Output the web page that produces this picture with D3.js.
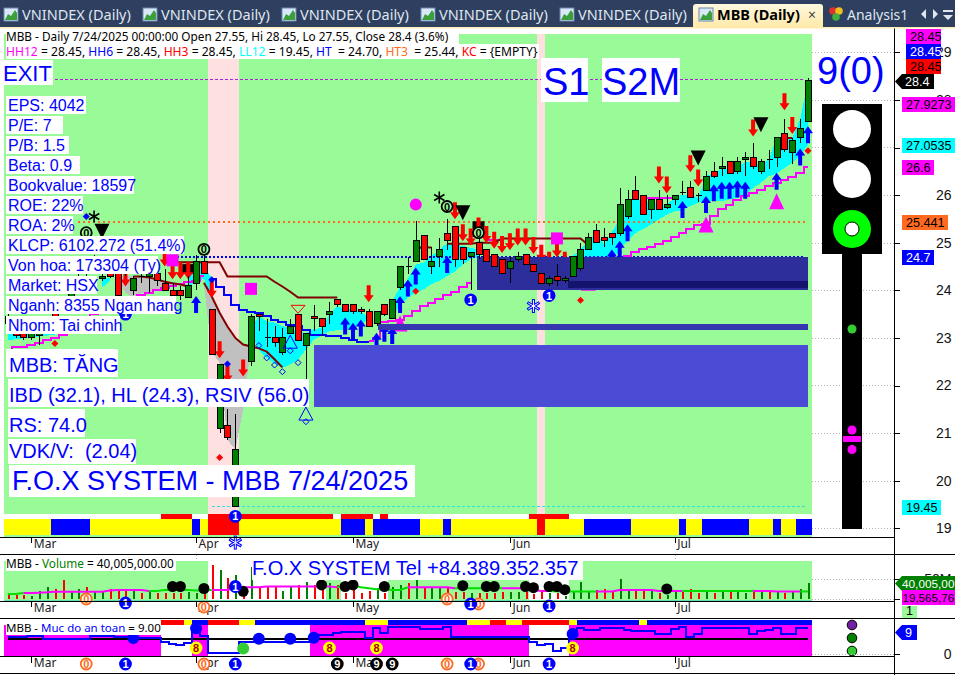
<!DOCTYPE html>
<html><head><meta charset="utf-8">
<script src="https://cdn.jsdelivr.net/npm/d3@7/dist/d3.min.js"></script>
<style>
html,body{margin:0;padding:0;background:#fff;overflow:hidden}
svg{display:block}
text{font-family:"Liberation Sans",Arial,sans-serif}
.ui text{font-family:"Noto Sans",sans-serif}
</style></head><body><svg id="c" width="955" height="675"></svg>
<script>
// ---------- DATA ----------
const open=[23.45,23.2,23.1,23.0,23.05,23.2,23.55,23.7,23.8,24.1,24.55,24.45,24.25,24.35,24.35,24.45,24.0,24.3,24.3,24.35,24.15,24.0,24.0,23.85,24.15,24.6,23.6,21.1,21.15,19.45,22.0,22.5,23.5,23,23,22.7,23.1,23.5,22.85,23.45,23.4,23.5,23.8,23.7,23.7,23.6,23.55,23.3,23.7,23.4,24.05,24.5,24.6,25.15,24.5,24.7,25.2,25.35,24.9,24.7,25.0,24.85,24.75,24.65,24.45,24.65,24.75,24.55,24.35,24.15,24.3,24.2,24.3,24.45,24.85,25.25,25.1,25.2,25.2,25.55,26.1,26.0,25.7,25.9,25.75,25.9,26.05,26.15,26.0,26.1,26.5,26.55,26.7,26.5,26.75,26.8,26.5,26.75,26.8,27.3,26.9,27.2,27.55];
const high=[23.5,23.3,23.15,23.15,23.2,23.4,23.6,23.8,24.1,24.4,24.7,24.75,24.45,24.5,24.55,24.5,24.3,24.55,24.35,24.6,24.45,24.15,24.1,24.3,24.75,24.75,23.6,22.45,21.5,21.4,22.05,23.5,23.5,23.4,23.25,23.2,23.4,23.5,23.1,23.7,23.4,23.75,23.8,23.7,23.7,23.65,23.6,23.55,23.7,23.8,24.5,24.7,25.45,25.15,24.9,25.1,25.5,25.35,24.9,24.8,25.35,24.85,24.75,24.65,24.7,24.8,24.75,24.55,24.35,24.3,24.55,24.3,24.7,25.0,25.2,25.4,25.3,25.2,26.15,26.1,26.4,26.0,25.9,26.1,26.0,26.0,26.3,26.3,26.05,26.5,26.7,26.8,26.7,26.8,26.9,27.1,26.75,26.95,27.2,27.6,27.2,27.6,28.45];
const low=[23.2,23.0,22.95,22.95,22.85,23.15,23.3,23.5,23.75,24.05,24.3,24.4,24.2,24.25,23.9,24.3,23.9,24.15,23.95,24.1,24.0,23.9,23.8,23.85,24.0,24.35,22.65,21.0,20.85,19.45,21.7,22.4,23.15,22.8,22.8,22.65,23.1,22.95,21.55,23.15,23.05,23.3,23.65,23.55,23.5,23.5,23.25,23.25,23.45,23.4,24.0,24.35,24.6,24.65,24.35,24.5,24.85,24.5,24.55,24.0,24.65,24.6,24.5,24.35,24.15,24.6,24.55,24.4,24.15,24.1,24.1,24.15,24.3,24.4,24.85,25.0,24.9,24.95,25.15,25.5,25.9,25.6,25.5,25.7,25.7,25.8,26.0,25.95,25.85,26.1,26.35,26.4,26.45,26.45,26.4,26.55,26.45,26.55,26.6,26.9,26.65,27.1,27.55];
const close=[23.3,23.05,23.0,23.1,23.1,23.3,23.4,23.55,23.95,24.25,24.35,24.6,24.3,24.3,23.9,24.35,24.25,24.3,24.35,24.2,24.0,23.9,23.9,24.1,24.6,24.35,22.65,22.45,20.9,20.65,21.75,23.45,23.45,23,22.9,23,23.25,22.95,23.1,23.4,23.25,23.55,23.7,23.55,23.55,23.55,23.25,23.55,23.5,23.8,24.5,24.5,25.05,24.65,24.6,24.85,25.05,24.65,24.65,24.8,24.75,24.6,24.5,24.35,24.6,24.7,24.55,24.4,24.15,24.25,24.2,24.25,24.7,24.85,25.1,25.0,25.05,25.1,25.8,25.9,25.9,25.6,25.9,25.7,25.8,26.0,26.05,25.95,26.0,26.4,26.4,26.6,26.45,26.7,26.8,26.6,26.7,26.75,27.2,26.95,27.15,27.4,28.4];
const volumeM=[10.8,10.8,10.8,8.3,20.8,30,25,48.3,20.8,25,30,19.2,19.2,25,25,20.8,20.8,16.7,20.8,15,15,16.7,15,19.2,15,25,85.8,73.3,52.5,60.8,23.3,81.6,30,30,30,20.8,30,35.8,44.1,35.8,31.7,40,35.8,16.7,23.3,16.7,20.8,27.5,15,30,35.8,41.7,50.8,30,27.5,30,30,19.2,19.2,15,15,15,15,19.2,19.2,19.2,19.2,13.3,19.2,15,15,8.3,19.2,44.1,20.8,23.3,25.8,19.2,50.8,23.3,23.3,23.3,20.8,15,10.8,19.2,19.2,25.8,16.7,19.2,16.7,20.8,23.3,19.2,16.7,19.2,19.2,19.2,20.8,16.7,19.2,25.8,40.005];
const volumeMA=[13.5,13.5,15.5,15.5,16.5,17.5,19,19,19,19,19,19,19,22,23,23.3,23.3,23.3,21,21,23,23,23.3,23.3,22,22,23.3,23.3,23.3,30,30,30,30,31.7,31.7,31.7,31.7,31.7,31.7,31.7,31.7,31.7,30,35,35,30,27.5,25,25,23.3,23.3,30,30,30,30,30,30,27.5,27.5,27.5,27.5,27.5,27.5,27.5,27.5,27.5,27.5,23.3,21,21,19.5,19.5,19.5,19.5,19.5,19.5,19.5,19.5,23.3,23.3,23.3,23.3,23.3,21,21,21,21,21,21,21,21,21,21,21,21,21,21,21,19.5,19.5,19.5,19.565,19.565];
const volumeMAColors=["#00e000","#ff00ff","#00e000","#ff00ff","#00e000","#ff00ff","#00e000","#ff00ff","#00e000","#ff00ff","#00e000","#ff00ff","#00e000","#ff00ff"];
const volumeMARuns=[2,16,8,16,9,6,6,6,6,11,9,6,5,2];
const safety=[5.7,5.7,5.7,6.2,6.2,5.1,5.1,5.1,5.1,5.1,5.1,6.2,6.2,6.2,6.0,6.0,5.4,5.4,5.4,5.4,4.3,3.4,3.1,3.7,9.1,6.2,0.3,0.3,0.3,0.3,4.3,4.3,4.3,4.3,4.3,4.3,4.3,4.3,4.3,5.4,6.5,6.5,7.3,7.4,7.4,7.4,5.4,8.8,7.1,9.1,9.1,9.1,9.1,8.4,8.4,8.4,9.1,5.7,5.7,5.7,5.7,5.7,5.7,5.7,5.7,5.7,5.7,4.3,3.1,3.4,1.2,2.0,7.1,9.0,8.2,8.2,8.9,8.9,8.9,8.2,8.0,8.0,8.0,7.0,7.0,8.4,9.1,5.7,6.9,8.9,8.9,8.9,8.9,8.9,8.9,6.9,7.9,8.2,8.9,6.9,6.9,9.0,9.0];
const safetyRef=5.3;

const monthLabels=["Mar","Apr","May","Jun","Jul"];
const monthBars=[3,24,44,64,85];
const priceTicks=[19,20,21,22,23,24,25,26,27,28,29];
const volumeTicks=[0,50];
const safetyTicks=[0];

const magentaStart1=0, magenta1=[22.75,22.8,22.8,22.85,22.9,22.95,23.0,23.07,23.2,23.3,23.4,23.5,23.55,23.65,23.7,23.75,23.85,23.9,23.95,24.0,24.05,24.1,24.13,24.17,24.2,24.3];
const magentaStart2=46, magenta2=[22.93,23.0,23.33,23.35,23.38,23.46,23.56,23.67,23.74,23.81,23.91,23.97,24.07,24.16];
const magentaStart3=78, magenta3=[24.68,24.73,24.81,24.86,24.9,24.98,25.04,25.11,25.2,25.28,25.37,25.4,25.57,25.7,25.79,25.89,25.99,26.04,26.1,26.2,26.26,26.31,26.38,26.47,26.6];
const upperMagentaStarts=[52,61,81], upperMagenta=[[24.89,24.89],[25.05,25.05,25.05],[25.94,25.94,25.94,25.94,25.94]];

const brownStarts=[16,25,52,56,99];
const brownSeries=[
 [24.29,24.29,24.27,24.23,24.18,24.15,24.12,24.08],
 [24.16,23.87,23.53,23.24,23.0,22.86,22.82,22.78,22.71,22.55,22.38],
 [24.9,24.9,24.9],
 [24.98,24.98,24.98,24.98,25.0,25.0,25.0,25.09,25.09,25.09,25.09,25.09,25.09,25.09,25.09,25.09,25.09,25.09,24.95],
 [27.2,27.2]];
const brownTopStart=20, brownTop=[24.59,24.59,24.59,24.59,24.59,24.59,24.59,24.59,24.29,24.29,24.29,24.29,24.29,24.29,24.18,24.08,23.97,23.85,23.85,23.85,23.85,23.85,23.85];
const blueStart=26, blueLine=[24.23,24.06,23.91,23.7,23.59,23.55,23.53,23.45,23.38,23.34,23.28,23.24,23.17,23.07,23.07,23.05,23.05,23.0,22.96,22.92,22.92];

const cyanStarts=[0,12,23,31,49,72];
const cyanTops=[
 [23.2,23.2,23.2,23.2,23.2,23.2,23.1],
 [24.25,24.25],
 [24.45,24.65,24.5,24.25],
 [23.2,23.46,23.35,23.32,23.25,23.21,23.14,23.1,23.18,23.21,23.49,23.67,23.6,23.6,23.56,23.42],
 [23.77,24.07,24.23,24.54,24.58,24.72,24.85,24.99,24.96,24.93,24.89,24.86],
 [24.72,24.86,25.03,25.21,24.96,25.21,25.52,25.84,25.94,25.84,25.87,25.8,25.8,25.94,26.01,26.01,25.94,26.4,26.47,26.54,26.54,26.57,26.71,26.68,26.64,26.75,27.2,27.2,27.2,27.59,28.39]];
const cyanBots=[
 [22.95,22.97,22.99,23.01,23.03,23.05,23.07],
 [24.05,24.2],
 [24.1,24.15,24.25,23.8],
 [23.1,22.75,22.58,22.46,22.37,22.44,22.55,22.75,22.96,23.05,23.14,23.16,23.16,23.21,23.28,23.39],
 [23.42,23.7,23.84,23.95,24.02,24.13,24.2,24.3,24.4,24.54,24.65,24.7],
 [24.5,24.5,24.5,24.5,24.5,24.6,24.86,25.03,25.2,25.29,25.38,25.49,25.59,25.66,25.68,25.77,25.84,25.87,25.87,25.87,25.91,25.94,25.99,26.15,26.26,26.4,26.45,26.57,26.68,26.82,27.06]];
const grayStarts=[14,25];
const grayTops=[[24.3,24.3,24.3,24.3,24.28,24.25,24.18,24.15,24.13],[24.16,23.87,23.53,23.24,23.0,22.86,22.82]];
const grayBots=[[24.2,23.95,23.85,23.95,23.95,24.0,24.05,24.1,24.13],[24.12,22.69,22.48,20.86,20.65,21.5,22.82]];

const pinkBars=[[26,30],[68,69]];
const zoneBars=[[39,102],[47.2,102],[59.8,102],[71.4,102]];
const zoneTop=[22.85,23.3,24.71,24.2];
const zoneBot=[21.54,23.17,24.0,24.05];
const levels=[28.43,25.44,24.7,19.45];
const levelStart=[6,9,21,26];

const stripColors=["#ffff00","#0000ff","#ffff00","#0000ff","#ffff00","#ff0000","#ffff00","#0000ff","#ffff00","#0000ff","#ffff00","#0000ff","#ffff00","#ff0000","#ffff00","#0000ff","#ffff00","#0000ff","#ffff00","#0000ff","#ffff00","#0000ff","#ffff00","#0000ff"];
const stripRuns=[6,5,13,1,1,4,13,3,1,6,3,1,11,1,5,6,6,1,2,6,3,1,2,2];
const redRuns=[20,4,2,16,1,4,1,1,18,5,31];
const volBgRuns=[26,15,2,6,18,5,31];
const safetyBgRuns=[20,4,2,13,28,5,31];
const safetyTopColors=["#ffffff","#ff0000","#ffff00","#0000ff","#ff0000","#ffff00","#0000ff","#ffff00","#0000ff","#ffff00","#ff0000","#ffff00","#ff0000","#ffff00","#0000ff","#ffff00","#0000ff"];
const safetyTopRuns=[20,3,1,2,4,2,14,3,10,3,2,2,6,1,8,1,21];

const upArrows=[[24,23.7],[43,23.25],[44,23.14],[45,23.21],[47,22.93],[48,23.1],[49,23.05],[50,23.7],[51,24.05],[52,24.3],[56,24.54],[77,24.68],[78,24.86],[79,25.21],[86,25.7],[89,25.8],[90,26.05],[91,26.1],[92,26.1],[93,26.13],[94,26.1],[98,26.29],[101,26.8],[102,27.27]];
const downArrows=[[15,24.26],[20,24.68],[21,24.41],[22,24.41],[23,24.41],[26,24.02],[27,22.75],[28,22.24],[30,22.37],[46,23.93],[57,25.67],[58,25.21],[59,25.12],[60,25.35],[61,25.17],[62,25.05],[63,24.96],[64,25.02],[65,25.12],[66,25.12],[67,24.94],[68,24.78],[69,24.63],[70,24.87],[71,24.63],[83,26.42],[84,26.21],[87,26.66],[88,26.36],[95,27.41],[99,27.96],[100,27.46]];
const blackTriangles=[[12,25.24],[58,25.63],[88,26.78],[96,27.48]];
const magentaTriangles=[[50,23.3],[74,24.16],[89,25.38],[98,25.87]];
const magentaSquares=[[21,24.63],[31,24.03],[70,25.09]];
const magentaDots=[[52,25.8]];
const redDiamonds=[[6,22.88],[27,20.49],[52,23.98],[73,23.79],[102,26.93]];
const blueDiamonds=[[10,25.55],[28,22.45],[26,24.22]];
const openDiamonds=[[32,22.84],[33,22.58],[34,22.43],[35,22.29],[36,22.73],[37,22.48],[38,21.24]];
const openTriangles=[[36,22.92],[38,21.41]];
const redOpenTriangles=[[37,23.6]];
const blackStars=[[11,25.55],[55,25.95]];
const snowflakes=[[67,23.67],[29,18.7]];
const blackBlocks=[[60,25.45,25.12],[23,24.55,24.35]];
const zeroBadges=[[10,25.21],[25,24.86],[56,25.76],[60,25.21]];
const oneBadges=[[15,23.5],[59,23.8],[69,23.89],[29,19.25]];
const volumeDots=[[21,32],[22,32],[25,27],[30,20],[40,36],[43,32],[44,36],[48,32],[58,34],[61,32],[62,32],[66,32],[67,29],[69,32],[70,32],[71,24],[84,26]];
const volOneBadges=[[29,32]];
const rowOrange=[10,25,56,60];
const rowBlue=[15,59,69];
const rowOrange2=[10,25,56,60];
const rowBlue2=[15,29,59,69];
const rowBlack=[42,47,49];
const safetyBlue=[[16,5.5],[24,8.8],[32,5.3],[36,5.3],[39,5.6],[72,6.9]];
const safetyLime=[[30,2.0]];
const safetyYellow=[24,41,47,72];

const tabLabels=["VNINDEX (Daily)","VNINDEX (Daily)","VNINDEX (Daily)","VNINDEX (Daily)","VNINDEX (Daily)"];
const factLines=["EPS: 4042","P/E: 7","P/B: 1.5","Beta: 0.9","Bookvalue: 18597","ROE: 22%","ROA: 2%","KLCP: 6102.272 (51.4%)","Von hoa: 173304 (Ty)","Market: HSX","Nganh: 8355 Ngan hang","Nhom: Tai chinh"];
const bigLines=["MBB: TĂNG","IBD (32.1), HL (24.3), RSIV (56.0)","RS: 74.0","VDK/V:  (2.04)"];

// ---------- SCALES ----------
const svg=d3.select("#c");
const xS=d3.scaleLinear().domain([0,102]).range([7.8,808]);
const step=xS(1)-xS(0);
const yP=d3.scaleLinear().domain([19,29]).range([528.3,52.3]);
const yV=d3.scaleLinear().domain([0,50]).range([599.3,579.3]);
const yS=d3.scaleLinear().domain([0,9]).range([654.3,627.7]);
const BLUE="#0000ff",MAG="#ff00ff",RED="#ff0000",GREEN="#98fb98";
const crisp=g=>g.attr("shape-rendering","crispEdges");
const edge=i=>xS(i)-step/2;

function drawRuns(g,runs,colors,y0,h){let i=0;runs.forEach((n,k)=>{const c=colors[k%colors.length];
  if(c&&c!=="none") g.append("rect").attr("x",edge(i)).attr("width",edge(i+n)-edge(i)).attr("y",y0).attr("height",h).attr("fill",c);
  i+=n;});}
function pts(start,vals){return vals.map((v,j)=>({i:start+j,v}));}
function line(g,start,vals,color,w,curve){g.append("path").datum(pts(start,vals)).attr("fill","none").attr("stroke",color).attr("stroke-width",w)
  .attr("d",d3.line().x(d=>xS(d.i)).y(d=>yP(d.v)).curve(curve||d3.curveLinear));}

// ---------- BACKGROUND ----------
const bg=svg.append("g").call(crisp);
bg.append("rect").attr("x",4).attr("y",34).attr("width",808).attr("height",480).attr("fill",GREEN);
pinkBars.forEach(b=>bg.append("rect").attr("x",edge(b[0])).attr("width",edge(b[1])-edge(b[0])).attr("y",34).attr("height",480).attr("fill","#ffe0e0"));

const strips=svg.append("g").call(crisp);
drawRuns(strips,redRuns,["none",RED],514,5);
drawRuns(strips,stripRuns,stripColors,519,16);
strips.append("rect").attr("x",4).attr("y",535).attr("width",808).attr("height",2).attr("fill",GREEN);

svg.append("g").selectAll("line").data(priceTicks).join("line").attr("x1",812).attr("x2",894).attr("y1",d=>Math.round(yP(d))+.5).attr("y2",d=>Math.round(yP(d))+.5)
  .attr("stroke","#b4b4b4").attr("stroke-dasharray","1,2").call(crisp);

// ---------- BANDS ----------
const bands=svg.append("g").attr("shape-rendering","crispEdges");
function band(starts,tops,bots,color){starts.forEach((s,k)=>{const d=tops[k].map((t,j)=>({i:s+j,t,b:bots[k][j]}));
  bands.append("path").datum(d).attr("fill",color).attr("d",d3.area().x(e=>xS(e.i)).y0(e=>yP(e.b)).y1(e=>yP(e.t)));});}
band(grayStarts,grayTops,grayBots,"#c0c0c0");
band(cyanStarts,cyanTops,cyanBots,"#00ffff");

// ---------- DOTTED LEVELS ----------
const lv=svg.append("g").call(crisp);
const levelColor=["#b020d8","#ff6a20",BLUE,"#30e0e0"],levelDash=["3,2","2,3","2,2","3,2"],levelW=[1,2,2,1];
levels.forEach((v,k)=>lv.append("line").attr("x1",xS(levelStart[k])).attr("x2",805).attr("y1",yP(v)).attr("y2",yP(v)).attr("stroke",levelColor[k]).attr("stroke-dasharray",levelDash[k]).attr("stroke-width",levelW[k]));

// ---------- LINES ----------
const ls=svg.append("g").attr("shape-rendering","crispEdges");
line(ls,magentaStart1,magenta1,MAG,2,d3.curveStep);
line(ls,magentaStart2,magenta2,MAG,2,d3.curveStep);
line(ls,magentaStart3,magenta3,MAG,2,d3.curveStep);
upperMagentaStarts.forEach((s,k)=>line(ls,s,upperMagenta[k],MAG,2));
const ls2=svg.append("g");
brownStarts.forEach((s,k)=>line(ls2,s,brownSeries[k],"#800000",2));
line(ls2,brownTopStart,brownTop,"#800000",2);
line(ls,blueStart,blueLine,BLUE,2,d3.curveStep);

// ---------- MARKERS (under zones) ----------
const mk=svg.append("g");
const upPath="M0,-8.5L5,-1.5L2,-1.5L2,8.5L-2,8.5L-2,-1.5L-5,-1.5Z";
const downPath="M0,8.5L5,1.5L2,1.5L2,-8.5L-2,-8.5L-2,1.5L-5,1.5Z";
const at=d=>`translate(${xS(d[0])},${yP(d[1])})`;
mk.selectAll(".bb").data(blackBlocks).join("rect").attr("x",d=>xS(d[0])-6).attr("width",12).attr("y",d=>yP(d[1])).attr("height",d=>yP(d[2])-yP(d[1])).attr("fill","#000");
mk.selectAll(".tm").data(magentaTriangles).join("path").attr("transform",at).attr("d","M0,-8L7.5,8L-7.5,8Z").attr("fill",MAG);
mk.selectAll(".da").data(downArrows).join("path").attr("transform",at).attr("d",downPath).attr("fill",RED);
mk.selectAll(".ua").data(upArrows).join("path").attr("transform",at).attr("d",upPath).attr("fill",BLUE);

// ---------- ZONES ----------
const zoneColor=["#4b4bd6","#3636b0","#2d2d9b","#14146e"];
svg.append("g").call(crisp).selectAll("rect").data(zoneBars).join("rect")
  .attr("x",d=>xS(d[0])).attr("width",d=>xS(d[1])-xS(d[0])).attr("y",(d,i)=>yP(zoneTop[i])).attr("height",(d,i)=>yP(zoneBot[i])-yP(zoneTop[i])).attr("fill",(d,i)=>zoneColor[i]);

// ---------- CANDLES ----------
const cg=svg.append("g").attr("shape-rendering","crispEdges");
open.forEach((o,i)=>{const c=close[i],x=Math.round(xS(i))+.5;
  cg.append("line").attr("x1",x).attr("x2",x).attr("y1",yP(high[i])).attr("y2",yP(low[i])).attr("stroke","#000");
  const top=yP(Math.max(o,c)),bot=yP(Math.min(o,c));
  if(o===c){cg.append("line").attr("x1",x-3).attr("x2",x+3).attr("y1",top).attr("y2",top).attr("stroke","#000");}
  else cg.append("rect").attr("x",x-3).attr("width",6).attr("y",top).attr("height",bot-top).attr("fill",c>o?"#008000":"#ff0000").attr("stroke","#000");
});

// ---------- MARKERS (over candles) ----------
const m2=svg.append("g");
function star(g,x,y,r,color,w){[0,60,120].forEach(a=>{const t=a*Math.PI/180+Math.PI/2;
  g.append("line").attr("x1",x-r*Math.cos(t)).attr("y1",y-r*Math.sin(t)).attr("x2",x+r*Math.cos(t)).attr("y2",y+r*Math.sin(t)).attr("stroke",color).attr("stroke-width",w);});}
m2.selectAll(".tb").data(blackTriangles).join("path").attr("transform",at).attr("d","M-7.5,-7.5L7.5,-7.5L0,7.5Z").attr("fill","#000");
m2.selectAll(".sq").data(magentaSquares).join("rect").attr("x",d=>xS(d[0])-6).attr("y",d=>yP(d[1])-6).attr("width",12).attr("height",12).attr("fill",MAG);
m2.selectAll(".md").data(magentaDots).join("circle").attr("cx",d=>xS(d[0])).attr("cy",d=>yP(d[1])).attr("r",6).attr("fill",MAG);
m2.selectAll(".rd").data(redDiamonds).join("path").attr("transform",at).attr("d","M0,-3.5L3.5,0L0,3.5L-3.5,0Z").attr("fill",RED);
m2.selectAll(".bd").data(blueDiamonds).join("path").attr("transform",at).attr("d","M0,-3.5L3.5,0L0,3.5L-3.5,0Z").attr("fill",BLUE);
m2.selectAll(".od").data(openDiamonds).join("path").attr("transform",at).attr("d","M0,-3L3,0L0,3L-3,0Z").attr("fill","none").attr("stroke",BLUE);
m2.selectAll(".ot").data(openTriangles).join("path").attr("transform",at).attr("d","M0,-6.5L7,6.5L-7,6.5Z").attr("fill","none").attr("stroke",BLUE);
m2.selectAll(".rt").data(redOpenTriangles).join("path").attr("transform",at).attr("d","M-7,-4L7,-4L0,4Z").attr("fill","none").attr("stroke",RED);
blackStars.forEach(d=>star(m2,xS(d[0]),yP(d[1]),6,"#000",1.6));
snowflakes.forEach(d=>{star(m2,xS(d[0]),yP(d[1]),7,BLUE,3);star(m2,xS(d[0]),yP(d[1]),6,"#fff",1);});

function badge(g,x,y,digit,kind){
  const st={zero:["#98fb98","#000","#000"],one:[BLUE,BLUE,"#fff"],orange:["#fff","#ff6a20","#ff6a20"],nine:["#000","#000","#fff"],eight:["#ffff00","#ffff00","#a00"]}[kind];
  g.append("circle").attr("cx",x).attr("cy",y).attr("r",5.5).attr("fill",st[0]).attr("stroke",st[1]).attr("stroke-width",1.8);
  g.append("text").attr("x",x).attr("y",y+4).attr("text-anchor","middle").attr("font-size",11).attr("font-weight","bold").attr("fill",st[2]).text(digit);
}
zeroBadges.forEach(d=>badge(m2,xS(d[0]),yP(d[1]),"0","zero"));
oneBadges.forEach(d=>badge(m2,xS(d[0]),yP(d[1]),"1","one"));

// ---------- LABELS ----------
const lab=svg.append("g");
function label(t,x,y,size,boxX,boxY,boxW,boxH){
  lab.append("rect").attr("x",boxX).attr("y",boxY).attr("width",boxW).attr("height",boxH).attr("fill","#fff").attr("shape-rendering","crispEdges");
  lab.append("text").attr("x",x).attr("y",y).attr("font-size",size).attr("fill",BLUE).style("white-space","pre").text(t);
}
label("EXIT",3,81,22,2,60,51,25);
const factW=[80,57,63,74,128,77,67,178,152,91,170,114];
factLines.forEach((t,i)=>label(t,8,111+20*i,16,6,96+20*i,factW[i],17.5));
label(bigLines[0],9,372,20,6,349,112,28);
label(bigLines[1],9,402,20,8,379,301,28);
label(bigLines[2],9,432,20,8,409,77,28);
label(bigLines[3],9,458,20,8,439,128,25);
label("F.O.X SYSTEM - MBB 7/24/2025",12,490,27,9,465,406,32);
label("S1",543,95,38,541,58,47,44);
label("S2M",602,95,38,602,58,78,44);

// ---------- HEADER ----------
const hd=svg.append("g").attr("class","ui");
hd.append("rect").attr("x",6).attr("y",29).attr("width",453).attr("height",15).attr("fill","#fff");
hd.append("rect").attr("x",6).attr("y",44).attr("width",533).attr("height",15).attr("fill","#fff");
hd.append("rect").attr("x",4).attr("y",28).attr("width",808).attr("height",6).attr("fill","#fff");
hd.append("text").attr("x",6).attr("y",41).attr("font-size",11.8).attr("fill","#000").text("MBB - Daily 7/24/2025 00:00:00 Open 27.55, Hi 28.45, Lo 27.55, Close 28.4 (3.6%)");
const hdParts=[["HH12",MAG],[" = 28.45, ","#000"],["HH6",BLUE],[" = 28.45, ","#000"],["HH3",RED],[" = 28.45, ","#000"],["LL12","#00ffff"],[" = 19.45, ","#000"],["HT",BLUE],["  = 24.70, ","#000"],["HT3","#ff6a20"],["  = 25.44, ","#000"],["KC",RED],[" = {EMPTY}","#000"]];
const ht=hd.append("text").attr("x",6).attr("y",56).attr("font-size",12.1).style("white-space","pre");
hdParts.forEach(p=>ht.append("tspan").attr("fill",p[1]).text(p[0]));
svg.append("text").attr("x",817).attr("y",84).attr("font-size",38).attr("fill",BLUE).text("9(0)");

// ---------- TRAFFIC LIGHT ----------
const tl=svg.append("g");
tl.append("rect").attr("x",822).attr("y",104).attr("width",60).attr("height",150).attr("fill","#000");
tl.append("rect").attr("x",842).attr("y",254).attr("width",20).attr("height",275).attr("fill","#000");
tl.append("circle").attr("cx",852).attr("cy",129).attr("r",19).attr("fill","#fff");
tl.append("circle").attr("cx",852).attr("cy",179).attr("r",19).attr("fill","#fff");
tl.append("circle").attr("cx",852).attr("cy",229).attr("r",19).attr("fill","#00ff00");
tl.append("circle").attr("cx",852).attr("cy",229).attr("r",7).attr("fill","#fff").attr("stroke","#000");
tl.append("circle").attr("cx",852).attr("cy",329).attr("r",4.5).attr("fill","#32cd32");
tl.append("circle").attr("cx",852).attr("cy",430).attr("r",4.5).attr("fill",MAG);
tl.append("rect").attr("x",843).attr("y",436).attr("width",18).attr("height",6).attr("fill",MAG);
tl.append("circle").attr("cx",852).attr("cy",449.5).attr("r",4.5).attr("fill",MAG);

// ---------- VOLUME PANE ----------
const vp=svg.append("g");
const vb=vp.append("g").call(crisp);
drawRuns(vb,volBgRuns,[GREEN,"#ffffff"],561,39);
vb.append("rect").attr("x",4).attr("y",599.5).attr("width",808).attr("height",1.2).attr("fill","#60e0b0");
monthBars.filter((d,i)=>i===1||i===4).forEach(i=>vb.append("line").attr("x1",Math.round(xS(i))+.5).attr("x2",Math.round(xS(i))+.5).attr("y1",555).attr("y2",561).attr("stroke","#b4b4b4").attr("stroke-dasharray","1,2"));
vp.append("g").call(crisp).selectAll("rect").data(volumeM).join("rect").attr("x",(d,i)=>Math.round(xS(i))).attr("width",2)
  .attr("y",d=>yV(d)).attr("height",d=>yV(0)-yV(d)).attr("fill",(d,i)=>close[i]>open[i]?"#008000":"#ff0000");
{let i=0;volumeMARuns.forEach((n,k)=>{const end=Math.min(i+n,102);const seg=d3.range(i,end+1).map(j=>({j,v:volumeMA[j]}));
  vp.append("path").datum(seg).attr("fill","none").attr("stroke",volumeMAColors[k]).attr("stroke-width",2).attr("d",d3.line().x(d=>xS(d.j)).y(d=>yV(d.v)));i+=n;});}
vp.selectAll(".vd").data(volumeDots).join("circle").attr("cx",d=>xS(d[0])).attr("cy",d=>yV(d[1])).attr("r",5.5).attr("fill","#000");
volOneBadges.forEach(d=>badge(vp,xS(d[0]),yV(d[1]),"1","one"));
const vt=vp.append("g").attr("class","ui");
vt.append("rect").attr("x",6).attr("y",557).attr("width",170).attr("height",14).attr("fill","#fff");
vt.append("text").attr("x",6).attr("y",568).attr("font-size",11.8).selectAll("tspan").data([["MBB - ","#000"],["Volume","#008000"],[" = 40,005,000.00","#000"]]).join("tspan").attr("fill",d=>d[1]).text(d=>d[0]);
vp.append("rect").attr("x",252).attr("y",558).attr("width",331).attr("height",22).attr("fill","#fff");
vp.append("text").attr("x",252).attr("y",575).attr("font-size",20.1).attr("fill",BLUE).text("F.O.X SYSTEM Tel +84.389.352.357");

// ---------- SAFETY PANE ----------
const sp=svg.append("g");
const sb=sp.append("g").call(crisp);
drawRuns(sb,safetyBgRuns,[MAG,"#ffffff"],625,31);
drawRuns(sb,safetyTopRuns,safetyTopColors,620,5);
sp.append("line").attr("x1",xS(0)).attr("x2",xS(102)).attr("y1",yS(safetyRef)).attr("y2",yS(safetyRef)).attr("stroke","#000").attr("stroke-width",2).call(crisp);
sp.append("path").datum(safety).attr("fill","none").attr("stroke",BLUE).attr("stroke-width",2).attr("shape-rendering","crispEdges")
  .attr("d",d3.line().x((d,i)=>xS(i)).y(d=>yS(d)).curve(d3.curveStep));
sp.selectAll(".sbl").data(safetyBlue).join("circle").attr("cx",d=>xS(d[0])).attr("cy",d=>yS(d[1])).attr("r",6).attr("fill",BLUE);
sp.selectAll(".slm").data(safetyLime).join("circle").attr("cx",d=>xS(d[0])).attr("cy",d=>yS(d[1])).attr("r",6).attr("fill","#32cd32");
safetyYellow.forEach(i=>badge(sp,xS(i),648,"8","eight"));
const st=sp.append("g").attr("class","ui");
st.append("rect").attr("x",6).attr("y",621).attr("width",155).attr("height",14).attr("fill","#fff");
st.append("text").attr("x",6).attr("y",632).attr("font-size",11.5).selectAll("tspan").data([["MBB - ","#000"],["Muc do an toan",BLUE],[" = 9.00","#000"]]).join("tspan").attr("fill",d=>d[1]).text(d=>d[0]);
sp.selectAll(".d3").data([[852,625,"#7020a0"],[852,638,"#008000"],[852,651,"#32cd32"]]).join("circle").attr("cx",d=>d[0]).attr("cy",d=>d[1]).attr("r",4.8).attr("fill",d=>d[2]).attr("stroke","#000");

// ---------- MONTH AXES ----------
[537,601,656.5].forEach(r=>{
  const g=svg.append("g").attr("class","ui").attr("transform",`translate(0,${r})`)
    .call(d3.axisBottom(xS).tickValues(monthBars).tickSize(6).tickFormat((d,i)=>monthLabels[i]));
  g.select(".domain").remove();
  g.selectAll(".tick line").attr("stroke","#000").attr("shape-rendering","crispEdges");
  g.selectAll(".tick text").attr("text-anchor","start").attr("x",2).attr("y",2).attr("dy","0.71em").attr("font-size",12).attr("fill","#222").attr("font-family","Noto Sans");
});
const rows=svg.append("g");
rowOrange.forEach(i=>badge(rows,xS(i),i===25?607:(i===10||i===56?599:604),"0","orange"));
rowBlue.forEach(i=>badge(rows,xS(i),i===15?603:(i===59?604:606),"1","one"));
rowOrange2.forEach(i=>badge(rows,xS(i),664,"0","orange"));
rowBlue2.forEach(i=>badge(rows,xS(i),664,"1","one"));
rowBlack.forEach(i=>badge(rows,xS(i),664,"9","nine"));

// ---------- FRAMES ----------
const fr=svg.append("g").call(crisp).attr("stroke","#000");
[[537,894],[554,955],[601,894],[618,955],[656.5,894],[673,955]].forEach(d=>fr.append("line").attr("x1",0).attr("x2",d[1]).attr("y1",Math.floor(d[0])+.5).attr("y2",Math.floor(d[0])+.5));
fr.append("line").attr("x1",894.5).attr("x2",894.5).attr("y1",28).attr("y2",675).attr("stroke-width",1.5);

// ---------- RIGHT AXES ----------
function rightAxis(scale,ticks,fmt){
  const g=svg.append("g").attr("transform","translate(894.5,0)").call(d3.axisRight(scale).tickValues(ticks).tickSize(5).tickFormat(fmt));
  g.select(".domain").remove();
  g.selectAll(".tick line").attr("stroke","#000").attr("shape-rendering","crispEdges");
  g.selectAll(".tick text").attr("text-anchor","end").attr("x",57).attr("font-size",14).attr("fill","#111").attr("font-family","Noto Sans");
  return g;
}
rightAxis(yP,priceTicks,d=>d);
rightAxis(yV,volumeTicks,d=>d?"50M":"");
rightAxis(yS,safetyTicks,d=>d);
svg.append("g").selectAll("line").data([yV(50),yV(0),yS(0)]).join("line").attr("x1",812).attr("x2",894).attr("y1",d=>Math.round(d)+.5).attr("y2",d=>Math.round(d)+.5).attr("stroke","#b4b4b4").attr("stroke-dasharray","1,2").call(crisp);

// ---------- VALUE TAGS ----------
const tg=svg.append("g");
function tag(txt,x,y0,w,h,fill,color,arrow,size,tx){
  if(arrow) tg.append("path").attr("d",`M${x},${y0+h/2}L${x+7},${y0}L${x+w},${y0}L${x+w},${y0+h}L${x+7},${y0+h}Z`).attr("fill",fill);
  else tg.append("rect").attr("x",x).attr("y",y0).attr("width",w).attr("height",h).attr("fill",fill).attr("shape-rendering","crispEdges");
  tg.append("text").attr("x",tx||(arrow?x+10:x+4)).attr("y",y0+h-3).attr("font-size",size||12.6).attr("fill",color).text(txt);
}
tag("28.45",906,29,35,15,MAG,"#000");
tag("28.45",906,44,35,15,BLUE,"#fff");
tag("28.45",906,59,35,15,RED,"#000");
tag("28.4",895,74,39,15,"#000","#fff",true);
tag("27.9273",902,97,53,15,MAG,"#000");
tag("27.0535",902,138,53,15,"#00ffff","#000");
tag("26.6",902,160,32,15,MAG,"#000");
tag("25.441",902,215,46,15,"#ff6a20","#000");
tag("24.7",902,250,32,15,BLUE,"#fff");
tag("19.45",902,500,39,15,"#00ffff","#000");
tag("40,005,00",895,576,60,15,"#008000","#fff",true,11.8,902);
tag("19,565,76",902,590,53,15,MAG,"#000",false,11.6,902.5);
tag("1",902,606,15,12,GREEN,"#000");
tag("9",895,625,22,15,BLUE,"#fff",true);

// ---------- TAB BAR ----------
const tb=svg.append("g").attr("class","ui");
tb.append("rect").attr("width",955).attr("height",27).attr("fill","#2e3f5f");
tb.append("rect").attr("y",27).attr("width",955).attr("height",1.5).attr("fill","#ffeeba");
function icon(x){tb.append("rect").attr("x",x).attr("y",8).attr("width",14).attr("height",13).attr("fill","#d8e8f8").attr("stroke","#6a86b0");
  tb.append("path").attr("d",`M${x+1},20L${x+4},14L${x+7},16L${x+11},10L${x+13},13L${x+13},20Z`).attr("fill","#3aa03a");}
tabLabels.forEach((t,i)=>{const x=4+139*i;icon(x);
  tb.append("text").attr("x",x+18).attr("y",20).attr("font-size",14.5).attr("fill","#dfe6f0").text(t);});
const grad=svg.append("defs").append("linearGradient").attr("id","tabg").attr("x1",0).attr("x2",0).attr("y1",0).attr("y2",1);
grad.append("stop").attr("offset",0).attr("stop-color","#fff8e0");grad.append("stop").attr("offset",1).attr("stop-color","#ffe9a8");
tb.append("path").attr("d","M693,28L693,7Q693,4 696,4L820,4Q823,4 823,7L823,28Z").attr("fill","url(#tabg)");
icon(699);
tb.append("text").attr("x",717).attr("y",20).attr("font-size",14.5).attr("font-weight","bold").attr("fill","#000").text("MBB (Daily)");
tb.append("text").attr("x",808).attr("y",19.5).attr("font-size",14).attr("fill","#444").text("×");
[["#e03030",833,11],["#f0c020",839,11],["#40b040",836,17]].forEach(d=>tb.append("circle").attr("cx",d[1]).attr("cy",d[2]).attr("r",3.8).attr("fill",d[0]));
tb.append("text").attr("x",847).attr("y",20).attr("font-size",14).attr("fill","#dfe6f0").text("Analysis1");
tb.append("path").attr("d","M926,9L926,19L921,14Z M933,9L938,14L933,19Z M943,10L953,10L953,12L943,12Z M943,15L953,15L948,20Z").attr("fill","#dfe6f0");
</script></body></html>
